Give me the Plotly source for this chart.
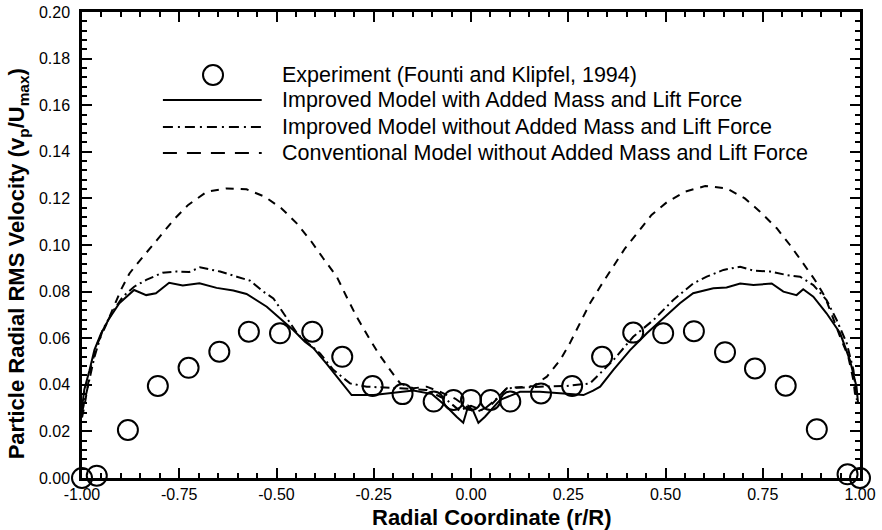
import plotly.graph_objects as go

# Experimental data (Founti and Klipfel, 1994)
exp_r = [-1.0, -0.962, -0.882, -0.805, -0.726, -0.647, -0.571, -0.491, -0.408, -0.331,
         -0.253, -0.176, -0.096, -0.045, 0.0, 0.050, 0.101, 0.180, 0.260, 0.337,
         0.417, 0.494, 0.573, 0.653, 0.730, 0.809, 0.889, 0.968, 1.0]
exp_v = [0.0, 0.001, 0.0206, 0.0395, 0.0473, 0.0542, 0.0628, 0.0621, 0.0628, 0.052,
         0.0395, 0.036, 0.0328, 0.0335, 0.0335, 0.0335, 0.0328, 0.0363, 0.0395, 0.052,
         0.0624, 0.0621, 0.063, 0.054, 0.047, 0.0396, 0.0209, 0.0016, 0.0]

# Improved model with added mass and lift force
imp_am_r = [-1.0, -0.994, -0.981, -0.968, -0.951, -0.930, -0.904, -0.866, -0.835, -0.810,
            -0.776, -0.741, -0.698, -0.654, -0.611, -0.577, -0.525, -0.482, -0.457, -0.427,
            -0.405, -0.371, -0.337, -0.307, -0.25, -0.20, -0.148, -0.10, -0.0625, -0.037,
            -0.020, -0.007, 0.005, 0.019, 0.036, 0.075, 0.126, 0.177, 0.246, 0.289,
            0.314, 0.332, 0.366, 0.409, 0.452, 0.503, 0.537, 0.571, 0.623, 0.657,
            0.692, 0.726, 0.773, 0.803, 0.837, 0.854, 0.880, 0.914, 0.949, 0.974,
            0.991, 0.995]
imp_am_v = [0.030, 0.038, 0.046, 0.055, 0.062, 0.0685, 0.075, 0.0807, 0.0785, 0.0793,
            0.0838, 0.0826, 0.0836, 0.0816, 0.0805, 0.079, 0.0735, 0.067, 0.0635, 0.0585,
            0.0557, 0.049, 0.042, 0.0356, 0.0356, 0.0365, 0.0375, 0.036, 0.0306, 0.0263,
            0.0237, 0.031, 0.029, 0.0237, 0.0263, 0.0335, 0.037, 0.037, 0.0363, 0.0356,
            0.0375, 0.0392, 0.0464, 0.0549, 0.0621, 0.070, 0.075, 0.0793, 0.0814, 0.0818,
            0.0835, 0.0828, 0.0835, 0.080, 0.0785, 0.081, 0.0778, 0.0707, 0.0621, 0.0506,
            0.0392, 0.032]

# Improved model without added mass and lift force
imp_r = [-1.0, -0.985, -0.968, -0.947, -0.921, -0.895, -0.866, -0.835, -0.793, -0.758,
         -0.724, -0.697, -0.645, -0.602, -0.568, -0.534, -0.508, -0.482, -0.444, -0.388,
         -0.354, -0.311, -0.268, -0.182, -0.114, -0.0625, -0.03, 0.0, 0.03, 0.0625,
         0.092, 0.177, 0.246, 0.306, 0.366, 0.417, 0.469, 0.520, 0.571, 0.606,
         0.649, 0.692, 0.726, 0.769, 0.812, 0.846, 0.880, 0.914, 0.940, 0.966,
         0.983, 0.992]
imp_v = [0.028, 0.039, 0.052, 0.0635, 0.0714, 0.0778, 0.0821, 0.085, 0.0881, 0.0886,
         0.0884, 0.0904, 0.0886, 0.0864, 0.0847, 0.080, 0.0771, 0.0707, 0.0614, 0.0535,
         0.0464, 0.0406, 0.0392, 0.0385, 0.0378, 0.0335, 0.029, 0.031, 0.029, 0.0335,
         0.0385, 0.0392, 0.0395, 0.0406, 0.0506, 0.0606, 0.0678, 0.0764, 0.0835, 0.0864,
         0.0893, 0.0907, 0.089, 0.0886, 0.0871, 0.0864, 0.0828, 0.0764, 0.0678, 0.0578,
         0.0464, 0.0335]

# Conventional model without added mass and lift force
conv_r = [-1.0, -0.994, -0.977, -0.960, -0.938, -0.921, -0.900, -0.878, -0.861, -0.808,
          -0.765, -0.727, -0.679, -0.628, -0.577, -0.530, -0.487, -0.448, -0.410, -0.380,
          -0.345, -0.320, -0.294, -0.264, -0.238, -0.208, -0.182, -0.148, -0.114, -0.080,
          -0.04, 0.01, 0.05, 0.092, 0.160, 0.195, 0.229, 0.254, 0.280, 0.306,
          0.332, 0.366, 0.396, 0.430, 0.464, 0.503, 0.550, 0.602, 0.657, 0.704,
          0.743, 0.786, 0.820, 0.854, 0.884, 0.910, 0.927, 0.949, 0.970, 0.983,
          0.990]
conv_v = [0.026, 0.0306, 0.0478, 0.0578, 0.0657, 0.0721, 0.0807, 0.0878, 0.0914, 0.102,
          0.1107, 0.1172, 0.1229, 0.1243, 0.1239, 0.1207, 0.1157, 0.1093, 0.1014, 0.0943,
          0.0864, 0.0778, 0.0692, 0.0606, 0.0535, 0.0464, 0.0406, 0.0385, 0.0392, 0.037,
          0.034, 0.028, 0.031, 0.0385, 0.0395, 0.0435, 0.0506, 0.0578, 0.0664, 0.075,
          0.0821, 0.0907, 0.0986, 0.1057, 0.1129, 0.1183, 0.1229, 0.1253, 0.1243, 0.12,
          0.1143, 0.1072, 0.100, 0.0921, 0.085, 0.0778, 0.070, 0.0606, 0.052, 0.042,
          0.032]

x_tickvals = [-1.0, -0.75, -0.5, -0.25, 0.0, 0.25, 0.5, 0.75, 1.0]
x_ticktext = ["-1.00", "-0.75", "-0.50", "-0.25", "0.00", "0.25", "0.50", "0.75", "1.00"]
y_tickvals = [0.0, 0.02, 0.04, 0.06, 0.08, 0.10, 0.12, 0.14, 0.16, 0.18, 0.20]
y_ticktext = ["0.00", "0.02", "0.04", "0.06", "0.08", "0.10", "0.12", "0.14", "0.16", "0.18", "0.20"]

legend_labels = [
    "Experiment (Founti and Klipfel, 1994)",
    "Improved Model with Added Mass and Lift Force",
    "Improved Model without Added Mass and Lift Force",
    "Conventional Model without Added Mass and Lift Force",
]
x_title = "<b>Radial Coordinate (r/R)</b>"
y_title = "<b>Particle Radial RMS Velocity (v<sub>p</sub>/U<sub>max</sub>)</b>"

FONT = "Liberation Sans, Arial, Helvetica, sans-serif"
DASH = "8px,7px"
DASHDOT = "9px,4px,2px,4px"

fig = go.Figure()
fig.add_trace(go.Scatter(x=conv_r, y=conv_v, mode="lines",
                         line=dict(color="black", width=2, dash=DASH)))
fig.add_trace(go.Scatter(x=imp_r, y=imp_v, mode="lines",
                         line=dict(color="black", width=2, dash=DASHDOT)))
fig.add_trace(go.Scatter(x=imp_am_r, y=imp_am_v, mode="lines",
                         line=dict(color="black", width=2)))
fig.add_trace(go.Scatter(x=exp_r, y=exp_v, mode="markers", cliponaxis=False,
                         marker=dict(symbol="circle-open", size=20, color="black",
                                     line=dict(color="black", width=2))))

# Hand-built legend block (long line samples)
leg_x_line0, leg_x_line1 = 0.104, 0.231
leg_x_text = 0.2545
leg_rows = [0.8648, 0.8112, 0.7532, 0.6974]

shapes = []
shapes.append(dict(type="circle", xref="paper", yref="paper",
                   xsizemode="pixel", ysizemode="pixel",
                   xanchor=0.1684, yanchor=leg_rows[0],
                   x0=-10, x1=10, y0=-10, y1=10,
                   line=dict(color="black", width=2)))
for row, dash in zip(leg_rows[1:], ["solid", "10px,5px,2px,5px", "14px,10px"]):
    shapes.append(dict(type="line", xref="paper", yref="paper",
                       x0=leg_x_line0, x1=leg_x_line1, y0=row, y1=row,
                       line=dict(color="black", width=2, dash=dash)))

annotations = [dict(text=t, xref="paper", yref="paper", x=leg_x_text, y=row,
                    xanchor="left", yanchor="middle", showarrow=False,
                    font=dict(family=FONT, size=21.5, color="black"))
               for t, row in zip(legend_labels, leg_rows)]

# Axis titles
annotations.append(dict(text=x_title, xref="paper", yref="paper", x=0.527, y=-0.084,
                        xanchor="center", yanchor="middle", showarrow=False,
                        font=dict(family=FONT, size=22, color="black")))
annotations.append(dict(text=y_title, xref="paper", yref="paper", x=-0.082, y=0.459,
                        xanchor="center", yanchor="middle", showarrow=False,
                        textangle=-90,
                        font=dict(family=FONT, size=22, color="black")))

axis_common = dict(
    showgrid=False, zeroline=False, showline=True, linecolor="black", linewidth=2.5,
    mirror="allticks", ticks="inside", ticklen=10, tickwidth=2, tickcolor="black",
    tickfont=dict(family=FONT, size=16, color="black"), automargin=False,
)

fig.update_layout(
    width=882, height=530,
    margin=dict(l=82, r=22, t=12, b=52),
    paper_bgcolor="white", plot_bgcolor="white",
    showlegend=False,
    shapes=shapes, annotations=annotations,
    xaxis=dict(range=[-1.0, 1.0], tickvals=x_tickvals, ticktext=x_ticktext,
               minor=dict(dtick=0.05, ticks="inside", ticklen=5, tickwidth=1.5,
                          tickcolor="black", showgrid=False),
               **axis_common),
    yaxis=dict(range=[0.0, 0.2], tickvals=y_tickvals, ticktext=y_ticktext,
               ticklabelstandoff=6,
               minor=dict(dtick=0.004, ticks="inside", ticklen=5, tickwidth=1.5,
                          tickcolor="black", showgrid=False),
               **axis_common),
)

fig.write_html("out.html")
